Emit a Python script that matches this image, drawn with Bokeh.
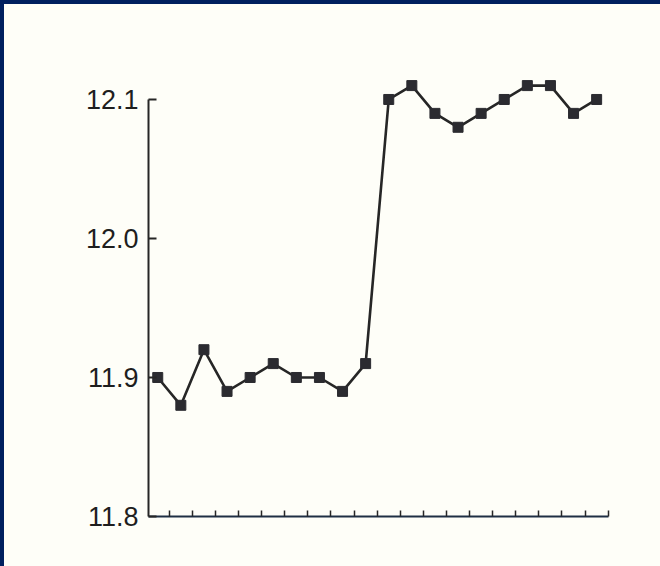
from bokeh.plotting import figure
from bokeh.models import FixedTicker, Range1d
from bokeh.embed import file_html
from bokeh.resources import INLINE

# Data
samples = list(range(1, 21))
values = [11.90, 11.88, 11.92, 11.89, 11.90, 11.91, 11.90, 11.90, 11.89, 11.91,
          12.10, 12.11, 12.09, 12.08, 12.09, 12.10, 12.11, 12.11, 12.09, 12.10]
y_ticks = [11.8, 11.9, 12.0, 12.1]
y_tick_labels = ["11.8", "11.9", "12.0", "12.1"]
x_ticks = [i + 0.5 for i in range(1, 21)]

BG = "#fefef8"
INK = "#262626"
NAVY = "#00205f"

p = figure(width=656, height=562, output_backend="svg", toolbar_location=None,
           x_range=Range1d(0.6, 20.6), y_range=Range1d(11.8, 12.1302),
           min_border_left=144, min_border_right=50, min_border_top=53, min_border_bottom=50,
           background_fill_color=BG, border_fill_color=BG, outline_line_color=None)
p.margin = (4, 0, 0, 4)
p.styles = {"background-color": BG}

p.xgrid.visible = False
p.ygrid.visible = False

p.line(samples, values, line_color=INK, line_width=2.6)
p.scatter(samples, values, marker="square", size=10, fill_color="#2b2b30", line_color="#2b2b30")

# Y axis
ya = p.yaxis[0]
ya.ticker = FixedTicker(ticks=y_ticks)
ya.major_label_overrides = dict(zip(y_ticks, y_tick_labels))
ya.bounds = (11.8, 12.1)
ya.axis_line_color = INK
ya.axis_line_width = 2
ya.major_tick_in = 8
ya.major_tick_out = 0
ya.major_tick_line_color = INK
ya.major_tick_line_width = 2
ya.minor_tick_line_color = None
ya.major_label_standoff = 10
ya.major_label_text_font = "Liberation Sans"
ya.major_label_text_font_size = "27px"
ya.major_label_text_color = "#1e1e1e"

# X axis (ticks only, no labels)
xa = p.xaxis[0]
xa.ticker = FixedTicker(ticks=x_ticks)
xa.major_label_overrides = {t: "" for t in x_ticks}
xa.bounds = (0.6, 20.5)
xa.axis_line_color = "#1f2f44"
xa.axis_line_width = 2
xa.major_tick_in = 6
xa.major_tick_out = 0
xa.major_tick_line_color = INK
xa.major_tick_line_width = 1.5
xa.minor_tick_line_color = None

html = file_html(p, INLINE)
html = html.replace("</head>", "<style>body{background:%s;}</style></head>" % NAVY, 1)
open("out.html", "w").write(html)
